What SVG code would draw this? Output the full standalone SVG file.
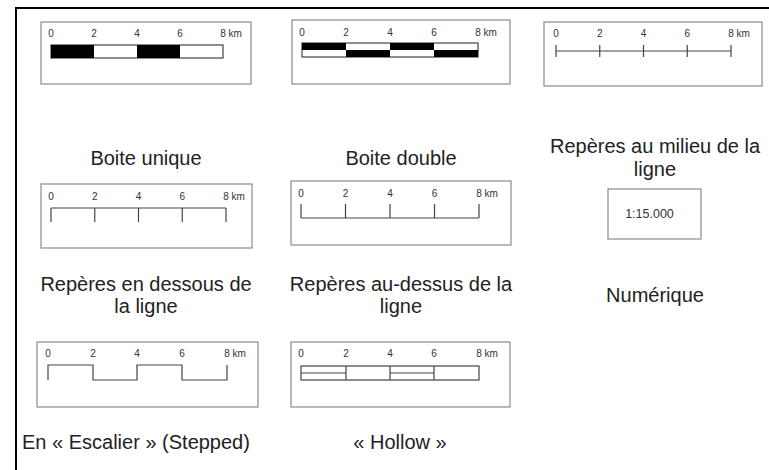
<svg xmlns="http://www.w3.org/2000/svg" width="769" height="470" viewBox="0 0 769 470">
<style>
.box{fill:#fff;stroke:#8a8a8a;stroke-width:1.2}
.ln{fill:none;stroke:#444;stroke-width:1.2}
.blk{fill:#000}
.num{font-family:"Liberation Sans",Arial,sans-serif;font-size:10px;fill:#333;text-anchor:middle}
.km{font-family:"Liberation Sans",Arial,sans-serif;font-size:10px;fill:#333}
.cap{font-family:"Liberation Sans",Arial,sans-serif;font-size:20px;fill:#222;text-anchor:middle}
.capl{font-family:"Liberation Sans",Arial,sans-serif;font-size:20px;fill:#222;text-anchor:start}
</style>
<rect width="769" height="470" fill="#fff"/>
<g id="frame"><path d="M16,470 V8 H769" fill="none" stroke="#000" stroke-width="2"/></g>

<g id="boite-unique">
<rect class="box" x="41" y="22" width="210" height="62"/>
<rect x="51" y="45" width="172" height="13" fill="#fff" stroke="#444" stroke-width="1.2"/>
<rect class="blk" x="51" y="45" width="43" height="13"/>
<rect class="blk" x="137" y="45" width="43" height="13"/>
<text class="num" x="51" y="37">0</text><text class="num" x="94" y="37">2</text><text class="num" x="137" y="37">4</text><text class="num" x="180" y="37">6</text><text class="km" x="220.2" y="37">8 km</text>
<text class="cap" x="146" y="165">Boite unique</text>
</g>

<g id="boite-double">
<rect class="box" x="292" y="20" width="218" height="64"/>
<rect x="302" y="43" width="176" height="14" fill="#fff" stroke="#444" stroke-width="1.2"/>
<rect class="blk" x="302" y="43" width="44" height="7"/>
<rect class="blk" x="390" y="43" width="44" height="7"/>
<rect class="blk" x="346" y="50" width="44" height="7"/>
<rect class="blk" x="434" y="50" width="44" height="7"/>
<text class="num" x="302" y="36">0</text><text class="num" x="346" y="36">2</text><text class="num" x="390" y="36">4</text><text class="num" x="434" y="36">6</text><text class="km" x="475.2" y="36">8 km</text>
<text class="cap" x="401" y="165">Boite double</text>
</g>

<g id="reperes-milieu">
<rect class="box" x="544" y="22" width="218" height="64"/>
<path class="ln" d="M556,51 H731 M556,45 V57 M599.75,45 V57 M643.5,45 V57 M687.25,45 V57 M731,45 V57"/>
<text class="num" x="556" y="37">0</text><text class="num" x="599.75" y="37">2</text><text class="num" x="643.5" y="37">4</text><text class="num" x="687.25" y="37">6</text><text class="km" x="728.2" y="37">8 km</text>
<text class="cap" x="655" y="153">Repères au milieu de la</text>
<text class="cap" x="655" y="176">ligne</text>
</g>

<g id="reperes-dessous">
<rect class="box" x="41" y="184" width="211" height="64"/>
<path class="ln" d="M51,208 H226 M51,208 V222 M94.75,208 V222 M138.5,208 V222 M182.25,208 V222 M226,208 V222"/>
<text class="num" x="51" y="200">0</text><text class="num" x="94.75" y="200">2</text><text class="num" x="138.5" y="200">4</text><text class="num" x="182.25" y="200">6</text><text class="km" x="223.2" y="200">8 km</text>
<text class="cap" x="146" y="291">Repères en dessous de</text>
<text class="cap" x="146" y="313">la ligne</text>
</g>

<g id="reperes-dessus">
<rect class="box" x="291" y="181" width="220" height="64"/>
<path class="ln" d="M301,218 H479 M301,204 V218 M345.5,204 V218 M390,204 V218 M434.5,204 V218 M479,204 V218"/>
<text class="num" x="301" y="197">0</text><text class="num" x="345.5" y="197">2</text><text class="num" x="390" y="197">4</text><text class="num" x="434.5" y="197">6</text><text class="km" x="476.2" y="197">8 km</text>
<text class="cap" x="401" y="291">Repères au-dessus de la</text>
<text class="cap" x="401" y="313">ligne</text>
</g>

<g id="numerique">
<rect class="box" x="608" y="189" width="93" height="50"/>
<text x="649.5" y="217.5" font-family="Liberation Sans, Arial, sans-serif" font-size="12.5" fill="#333" text-anchor="middle">1:15.000</text>
<text class="cap" x="655" y="302">Numérique</text>
</g>

<g id="escalier">
<rect class="box" x="37" y="342" width="221" height="65"/>
<path class="ln" d="M48,380 V365 H93 V380 H137 V365 H182 V380 H227 V365"/>
<text class="num" x="48" y="357">0</text><text class="num" x="93" y="357">2</text><text class="num" x="137" y="357">4</text><text class="num" x="182" y="357">6</text><text class="km" x="224.2" y="357">8 km</text>
<text class="capl" x="22" y="449">En « Escalier » (Stepped)</text>
</g>

<g id="hollow">
<rect class="box" x="291" y="342" width="219" height="65"/>
<rect x="301" y="366" width="178" height="14" fill="#fff" stroke="#444" stroke-width="1.2"/>
<path class="ln" d="M301,373 H346 M390,373 H434 M346,366 V380 M390,366 V380 M434,366 V380"/>
<text class="num" x="301" y="357">0</text><text class="num" x="346" y="357">2</text><text class="num" x="390" y="357">4</text><text class="num" x="434" y="357">6</text><text class="km" x="476.2" y="357">8 km</text>
<text class="cap" x="400" y="449">« Hollow »</text>
</g>
</svg>
